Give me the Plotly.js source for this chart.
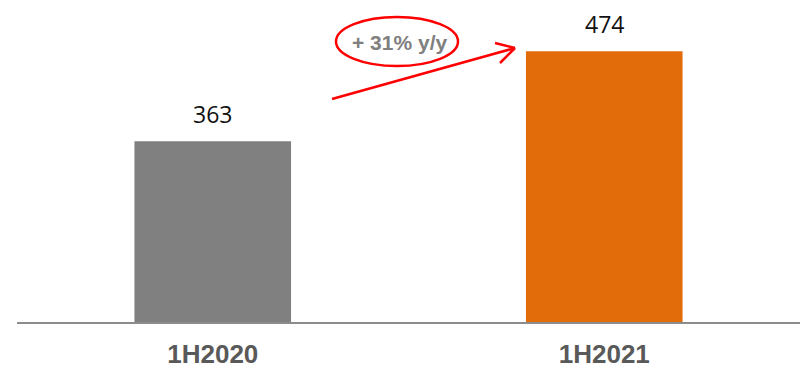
<!DOCTYPE html>
<html>
<head>
<meta charset="utf-8">
<script src="https://cdn.plot.ly/plotly-3.0.1.min.js"></script>
<style>html,body{margin:0;padding:0;background:#fff;}#chart{width:810px;height:368px;}</style>
</head>
<body>
<div id="chart"></div>
<script>
const categories = ["1H2020", "1H2021"];
const values = [363, 474];
const barColors = ["#808080", "#E36C0A"];
const growthLabel = "+ 31% y/y";

const W = 810, H = 368;
const M = {l: 17, r: 10, t: 0, b: 46};
const yRange = [140, 537.2];
const xRange = [-0.5, 1.5];

// pixel -> data helpers for decorative annotation shapes
const pw = W - M.l - M.r, ph = H - M.t - M.b;
const px2x = p => xRange[0] + (p - M.l) / pw * (xRange[1] - xRange[0]);
const py2y = p => yRange[0] + (H - M.b - p) / ph * (yRange[1] - yRange[0]);

const trace = {
  type: "bar",
  x: categories,
  y: values,
  width: 0.4,
  marker: {color: barColors, line: {width: 0}},
  hoverinfo: "skip"
};

const annotations = categories.map((c, i) => ({
  x: c, y: values[i], xref: "x", yref: "y",
  text: String(values[i]), showarrow: false,
  yanchor: "middle", yshift: 27,
  font: {family: "Open Sans, Noto Sans, sans-serif", size: 23, color: "#111111"}
}));
annotations.push({
  x: px2x(399), y: py2y(42), xref: "x", yref: "y",
  text: "<b>" + growthLabel + "</b>", showarrow: false,
  font: {family: "Liberation Sans, Arial, sans-serif", size: 21, color: "#7F7F7F"}
});

const red = "#FF0000";
const tip = [515, 48];
const shapes = [
  {type: "circle", xref: "x", yref: "y",
   x0: px2x(336), x1: px2x(458), y0: py2y(66), y1: py2y(17),
   line: {color: red, width: 2.5}},
  {type: "line", xref: "x", yref: "y",
   x0: px2x(332), y0: py2y(99), x1: px2x(tip[0]), y1: py2y(tip[1]),
   line: {color: red, width: 2.5}},
  {type: "line", xref: "x", yref: "y",
   x0: px2x(495), y0: py2y(43), x1: px2x(tip[0]), y1: py2y(tip[1]),
   line: {color: red, width: 2.5}},
  {type: "line", xref: "x", yref: "y",
   x0: px2x(500), y0: py2y(63), x1: px2x(tip[0]), y1: py2y(tip[1]),
   line: {color: red, width: 2.5}}
];

const layout = {
  width: W, height: H,
  margin: M,
  paper_bgcolor: "#ffffff",
  plot_bgcolor: "#ffffff",
  showlegend: false,
  bargap: 0.6,
  xaxis: {
    range: xRange,
    showline: true, linecolor: "#8C8C8C", linewidth: 2,
    showgrid: false, zeroline: false, ticks: "",
    ticklabelstandoff: 8,
    tickfont: {family: "Liberation Sans, Arial, sans-serif", size: 26, color: "#595959", weight: "bold"}
  },
  yaxis: {
    range: yRange, visible: false, showgrid: false, zeroline: false
  },
  annotations: annotations,
  shapes: shapes
};

Plotly.newPlot("chart", [trace], layout, {staticPlot: true, displayModeBar: false});
</script>
</body>
</html>
